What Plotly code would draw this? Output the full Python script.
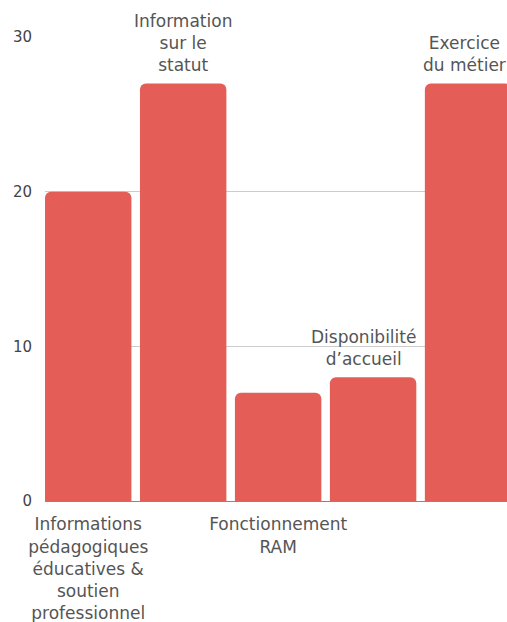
import plotly.graph_objects as go

categories = [
    "Informations pédagogiques éducatives & soutien professionnel",
    "Information sur le statut",
    "Fonctionnement RAM",
    "Disponibilité d’accueil",
    "Exercice du métier",
]
display_labels = [
    "Informations<br>pédagogiques<br>éducatives &<br>soutien<br>professionnel",
    "Information<br>sur le<br>statut",
    "Fonctionnement<br>RAM",
    "Disponibilité<br>d’accueil",
    "Exercice<br>du métier",
]
values = [20, 27, 7, 8, 27]
bottom_label_idx = [0, 2]
top_label_idx = [1, 3, 4]
top_label_shift = [0, -10, -4]
y_ticks = [0, 10, 20, 30]

FONT = "DejaVu Sans"
TXT = "#555555"
BAR = "#E45D57"

fig = go.Figure(go.Bar(
    x=categories, y=values,
    marker=dict(color=BAR, cornerradius=6, line=dict(width=0)),
    hoverinfo="skip",
))

annotations = []
for i, dx in zip(top_label_idx, top_label_shift):
    annotations.append(dict(
        x=categories[i], y=values[i], xref="x", yref="y",
        text=display_labels[i], showarrow=False,
        yanchor="bottom", yshift=6, xshift=dx,
        font=dict(family=FONT, size=17, color=TXT),
        align="center",
    ))

fig.update_layout(
    width=507, height=622,
    margin=dict(l=45, r=0, t=37, b=121),
    paper_bgcolor="white", plot_bgcolor="white",
    bargap=0.09,
    showlegend=False,
    annotations=annotations,
    font=dict(family=FONT, color=TXT),
    xaxis=dict(
        type="category",
        range=[-0.455, 4.41],
        tickmode="array",
        tickvals=[categories[i] for i in bottom_label_idx],
        ticktext=[display_labels[i] for i in bottom_label_idx],
        tickfont=dict(family=FONT, size=17, color=TXT),
        showline=True, linecolor="#888888", linewidth=1,
        showgrid=False, ticks="", tickangle=0,
        ticklabelstandoff=8,
        fixedrange=True,
    ),
    yaxis=dict(
        range=[0, 30],
        tickvals=y_ticks,
        tickfont=dict(family=FONT, size=15, color="#444444"),
        showgrid=True, gridcolor="#cccccc", gridwidth=1,
        zeroline=False, showline=False, ticks="",
        ticklabelstandoff=12,
        fixedrange=True,
    ),
)

fig.write_html(
    "out.html",
    config={"displayModeBar": False, "staticPlot": True},
    post_script="document.body.style.margin='0';document.body.style.overflow='hidden';",
)
